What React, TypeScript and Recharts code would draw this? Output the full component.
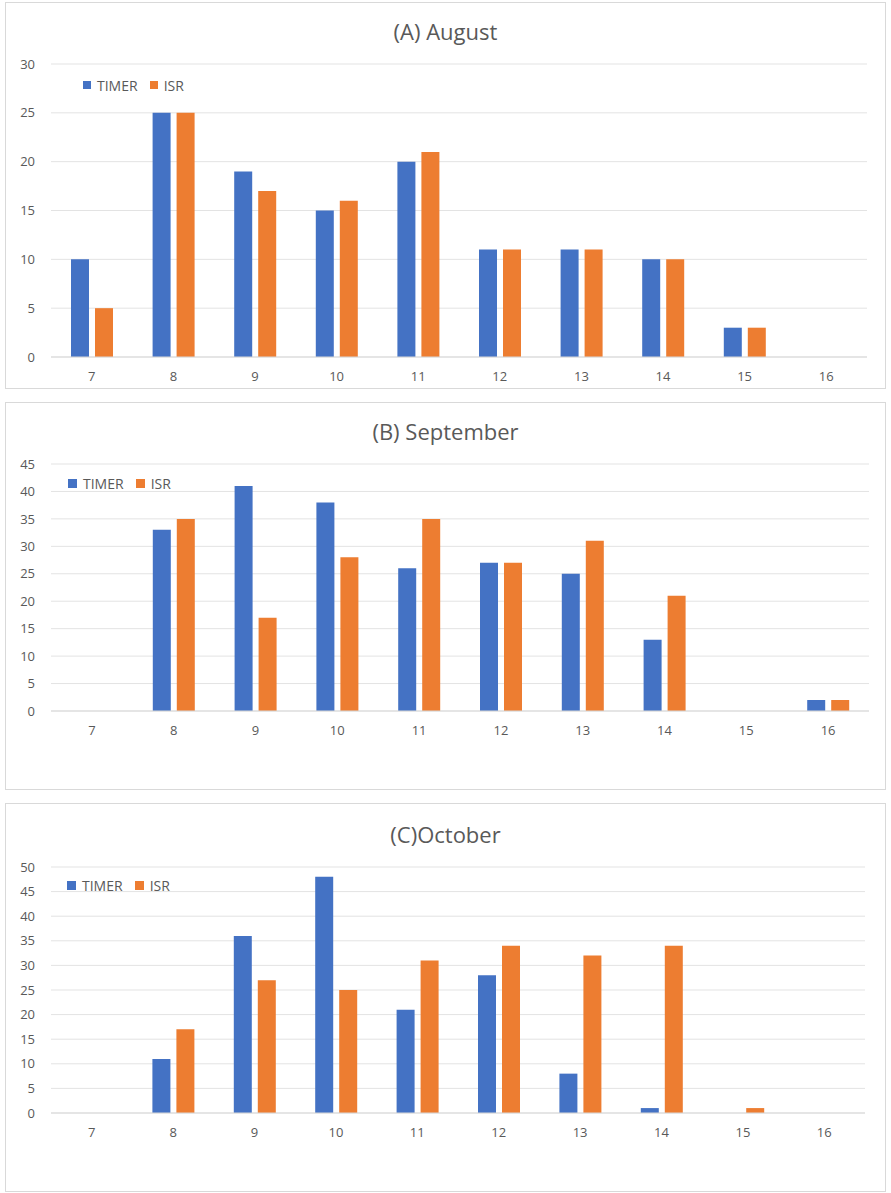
import React from 'react';
import { BarChart, Bar, XAxis, YAxis, CartesianGrid, Legend } from 'recharts';

const categories = ['7', '8', '9', '10', '11', '12', '13', '14', '15', '16'];
const seriesNames = ['TIMER', 'ISR'];

const augTimer = [10, 25, 19, 15, 20, 11, 11, 10, 3, 0];
const augIsr = [5, 25, 17, 16, 21, 11, 11, 10, 3, 0];

const sepTimer = [0, 33, 41, 38, 26, 27, 25, 13, 0, 2];
const sepIsr = [0, 35, 17, 28, 35, 27, 31, 21, 0, 2];

const octTimer = [0, 11, 36, 48, 21, 28, 8, 1, 0, 0];
const octIsr = [0, 17, 27, 25, 31, 34, 32, 34, 1, 0];

const augTicks = [0, 5, 10, 15, 20, 25, 30];
const sepTicks = [0, 5, 10, 15, 20, 25, 30, 35, 40, 45];
const octTicks = [0, 5, 10, 15, 20, 25, 30, 35, 40, 45, 50];

const BLUE = '#4472C4';
const ORANGE = '#ED7D31';
const TEXT = '#595959';
const FONT = '"Open Sans", sans-serif';

const toRows = (timer: number[], isr: number[]) =>
    categories.map((c, i) => ({ name: c, TIMER: timer[i], ISR: isr[i] }));

interface PanelProps {
    title: string;
    data: Array<{ name: string; TIMER: number; ISR: number }>;
    ticks: number[];
    top: number;
    height: number;
    margin: { top: number; right: number; bottom: number };
    legendPos: { left: number; top: number };
    titleTop: number;
    square: number;
}

const Panel = ({ title, data, ticks, top, height, margin, legendPos, titleTop, square }: PanelProps) => {
    const renderLegend = (props: any) => {
        // keep TIMER before ISR, recharts sorts by name otherwise
        const items = [...(props.payload || [])].sort(
            (a: any, b: any) => seriesNames.indexOf(a.value) - seriesNames.indexOf(b.value));
        return (
            <div style={{ display: 'flex', alignItems: 'center', height: 20, fontFamily: FONT, fontSize: 14, color: TEXT }}>
                {items.map((p: any) => (
                    <span key={p.value} style={{ display: 'flex', alignItems: 'center', marginRight: 12 }}>
                        <span style={{ width: square, height: square, background: p.color, marginRight: 6, display: 'inline-block' }} />
                        {p.value}
                    </span>
                ))}
            </div>
        );
    };

    return (
        <div style={{
            position: 'absolute', left: 5, top, width: 881, height,
            border: '1px solid #d9d9d9', boxSizing: 'border-box', background: '#fff'
        }}>
            <div style={{
                position: 'absolute', left: 0, width: '100%', top: titleTop - 15, height: 30, lineHeight: '30px',
                textAlign: 'center', fontFamily: FONT, fontSize: 22, color: TEXT
            }}>
                {title}
            </div>
            <BarChart width={879} height={height - 2} data={data}
                margin={{ top: margin.top, right: margin.right, bottom: margin.bottom, left: 0 }}
                barSize={18} barGap={6}>
                <CartesianGrid vertical={false} stroke="#e3e3e3" />
                <XAxis dataKey="name" axisLine={{ stroke: '#d9d9d9' }} tickLine={false} height={30}
                    tickMargin={9} tick={{ fill: TEXT, fontSize: 13, fontFamily: FONT }} interval={0} />
                <YAxis width={45} domain={[0, ticks[ticks.length - 1]]} ticks={ticks} axisLine={false}
                    tickLine={false} tickMargin={10} tick={{ fill: TEXT, fontSize: 13, fontFamily: FONT }} />
                <Legend layout="horizontal" verticalAlign="middle" align="center" content={renderLegend}
                    wrapperStyle={{ left: legendPos.left, top: legendPos.top, width: 200, height: 20 }} />
                <Bar dataKey="TIMER" fill={BLUE} isAnimationActive={false} />
                <Bar dataKey="ISR" fill={ORANGE} isAnimationActive={false} />
            </BarChart>
        </div>
    );
};

const App = () => {
    return (
        <div style={{ position: 'absolute', left: 0, top: 0, width: 891, height: 1193, background: '#fff' }}>
            <Panel title="(A) August" data={toRows(augTimer, augIsr)} ticks={augTicks}
                top={2} height={387} margin={{ top: 61, right: 18, bottom: 1 }}
                legendPos={{ left: 77, top: 72 }} titleTop={28} square={8} />
            <Panel title="(B) September" data={toRows(sepTimer, sepIsr)} ticks={sepTicks}
                top={402} height={388} margin={{ top: 61, right: 16, bottom: 48 }}
                legendPos={{ left: 62, top: 70 }} titleTop={28} square={9} />
            <Panel title="(C)October" data={toRows(octTimer, octIsr)} ticks={octTicks}
                top={803} height={389} margin={{ top: 63, right: 20, bottom: 48 }}
                legendPos={{ left: 61, top: 71 }} titleTop={30} square={9} />
        </div>
    );
};

export default App;
